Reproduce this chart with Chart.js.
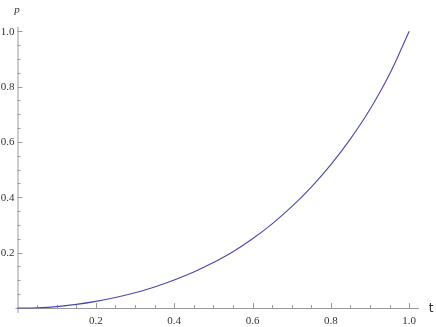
<!DOCTYPE html>
<html>
<head>
<meta charset="utf-8">
<script src="https://cdn.jsdelivr.net/npm/chart.js@4"></script>
<style>
  html, body { margin: 0; padding: 0; background: #fff; }
  #wrap { width: 436px; height: 327px; }
</style>
</head>
<body>
<div id="wrap"><canvas id="plot"></canvas></div>
<script>
// values, t = 0 .. 1 in steps of 0.05
const tValues = [0, 0.05, 0.1, 0.15, 0.2, 0.25, 0.3, 0.35, 0.4, 0.45, 0.5,
                 0.55, 0.6, 0.65, 0.7, 0.75, 0.8, 0.85, 0.9, 0.95, 1.0];
const pValues = [0, 0.001, 0.005, 0.013, 0.024, 0.038, 0.055, 0.076, 0.101, 0.130, 0.164,
                 0.203, 0.250, 0.304, 0.366, 0.437, 0.518, 0.611, 0.718, 0.845, 1.0];
const xTickLabels = ['0.2', '0.4', '0.6', '0.8', '1.0'];
const yTickLabels = ['0.2', '0.4', '0.6', '0.8', '1.0'];
const minorStep = 0.05;

const points = tValues.map((t, i) => ({ x: t, y: pValues[i] }));
const serif = '"Liberation Serif", "Times New Roman", Times, serif';

// mathematica style axes, drawn from the chart's own scales
const axesPlugin = {
  id: 'axes',
  beforeDatasetsDraw(chart) {
    const ctx = chart.ctx;
    const xs = chart.scales.x, ys = chart.scales.y;
    const x0 = xs.getPixelForValue(0), y0 = ys.getPixelForValue(0);
    ctx.save();
    ctx.strokeStyle = '#9a9a9a';
    ctx.lineWidth = 1;
    ctx.beginPath();
    ctx.moveTo(x0 - 2, y0 + 0.5);
    ctx.lineTo(xs.right, y0 + 0.5);
    ctx.moveTo(x0 + 0.5, y0 + 5);
    ctx.lineTo(x0 + 0.5, ys.top);
    ctx.stroke();

    // minor + major ticks
    ctx.beginPath();
    for (let i = 1; i * minorStep <= 1.0001; i++) {
      const v = i * minorStep;
      const major = i % 4 === 0;
      const len = major ? 5 : 3;
      const px = Math.round(xs.getPixelForValue(v)) + 0.5;
      ctx.moveTo(px, y0);
      ctx.lineTo(px, y0 - len);
      const py = Math.round(ys.getPixelForValue(v)) + 0.5;
      ctx.moveTo(x0, py);
      ctx.lineTo(x0 + len, py);
    }
    ctx.stroke();

    ctx.fillStyle = '#333';
    ctx.font = '11px ' + serif;
    ctx.textAlign = 'center';
    ctx.textBaseline = 'alphabetic';
    xTickLabels.forEach(l => {
      ctx.fillText(l, xs.getPixelForValue(parseFloat(l)), y0 + 16);
    });
    ctx.textAlign = 'right';
    ctx.textBaseline = 'middle';
    yTickLabels.forEach(l => {
      ctx.fillText(l, x0 - 3, ys.getPixelForValue(parseFloat(l)) + 0.5);
    });

    // axis names
    ctx.textAlign = 'center';
    ctx.font = 'italic 11px ' + serif;
    ctx.fillText('p', x0 - 0.5, 10);
    ctx.font = '12px "DejaVu Sans", sans-serif';
    ctx.fillText('t', 431, y0 + 1);
    ctx.restore();
  }
};

function build() {
  new Chart(document.getElementById('plot'), {
    type: 'scatter',
    data: {
      datasets: [{
        data: points,
        showLine: true,
        borderColor: 'rgb(72, 72, 170)',
        borderWidth: 1.1,
        pointRadius: 0,
        tension: 0.4,
        clip: false
      }]
    },
    options: {
      responsive: true,
      maintainAspectRatio: false,
      animation: false,
      layout: { padding: { left: 17.5, right: 17, top: 27, bottom: 19 } },
      plugins: { legend: { display: false }, tooltip: { enabled: false } },
      scales: {
        x: { type: 'linear', display: false, min: 0, max: 1.025 },
        y: { type: 'linear', display: false, min: 0, max: 1.015 }
      }
    },
    plugins: [axesPlugin]
  });
}

Promise.all([
  document.fonts.load('11px "Liberation Serif"'),
  document.fonts.load('italic 11px "Liberation Serif"'),
  document.fonts.load('12px "DejaVu Sans"')
]).then(build, build);
</script>
</body>
</html>
